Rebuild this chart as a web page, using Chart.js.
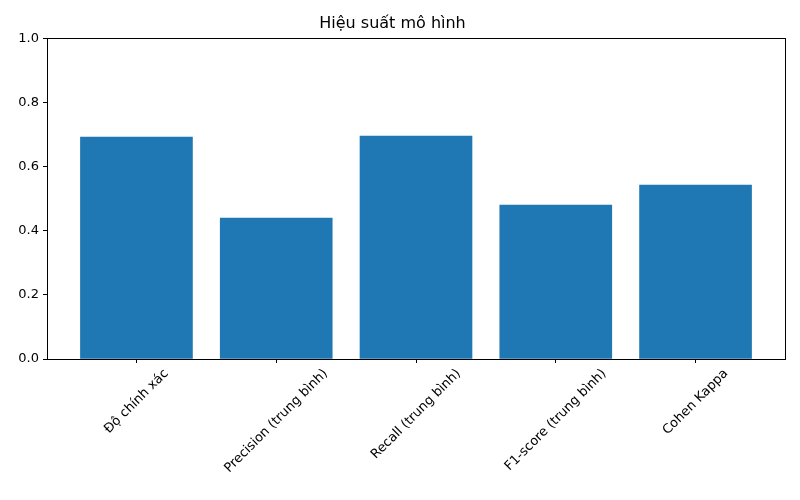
<!DOCTYPE html>
<html><head><meta charset="utf-8">
<script src="https://cdn.jsdelivr.net/npm/chart.js@4"></script>
<style>body{margin:0;background:#fff}#w{width:800px;height:500px}</style>
</head><body><div id="w"><canvas id="c"></canvas></div>
<script>
const categories = ["Độ chính xác","Precision (trung bình)","Recall (trung bình)","F1-score (trung bình)","Cohen Kappa"];
const values = [0.692, 0.439, 0.695, 0.480, 0.542];
const yTicks = [0,0.2,0.4,0.6,0.8,1.0];
const FONT = "'DejaVu Sans', sans-serif";

const labelPlugin = {
  id:'lbl',
  afterDraw(chart){
    const ctx = chart.ctx, xs = chart.scales.x, a = chart.chartArea;
    ctx.save();
    ctx.strokeStyle='#000'; ctx.lineWidth=1;
    ctx.strokeRect(Math.round(a.left)+0.5, Math.round(a.top)+0.5, Math.round(a.right-a.left), Math.round(a.bottom-a.top));
    ctx.font = '13px '+FONT; ctx.fillStyle='#000';
    ctx.textAlign='center'; ctx.textBaseline='middle';
    const s = Math.SQRT1_2, fh = 13;
    categories.forEach((t,i)=>{
      const x = xs.getPixelForValue(i);
      const w = ctx.measureText(t).width;
      const h = (w*s + fh*s)/2;
      ctx.save();
      ctx.translate(x, a.bottom + 8 + h);
      ctx.rotate(-Math.PI/4);
      ctx.fillText(t,0,0);
      ctx.restore();
    });
    ctx.restore();
  }
};

new Chart(document.getElementById('c'), {
  type:'bar',
  data:{datasets:[{data: values.map((v,i)=>({x:i,y:v})), backgroundColor:'#1f77b4', barThickness:112}]},
  options:{
    responsive:true, maintainAspectRatio:false, animation:false,
    layout:{padding:{left:0,right:15,top:0,bottom:0}},
    plugins:{legend:{display:false}, tooltip:{enabled:false},
      title:{display:true, text:'Hiệu suất mô hình', color:'#000', font:{family:FONT,size:16,weight:'normal'}, padding:{top:14,bottom:5}}},
    scales:{
      x:{type:'linear', min:-0.64, max:4.64, offset:false, afterFit(s){s.height=141;},
        afterBuildTicks(s){s.ticks = categories.map((c,i)=>({value:i}));},
        ticks:{display:false},
        grid:{offset:false, drawOnChartArea:false, drawTicks:true, tickLength:4, color:'#000'},
        border:{display:true,color:'#000'}},
      y:{min:0, max:1, afterFit(s){s.width=47;},
        afterBuildTicks(s){s.ticks = yTicks.map(v=>({value:v}));},
        ticks:{color:'#000', font:{family:FONT,size:13}, padding:4, callback:v=>v.toFixed(1)},
        grid:{drawOnChartArea:false, drawTicks:true, tickLength:4, color:'#000'},
        border:{display:true,color:'#000'}}
    }
  },
  plugins:[labelPlugin]
});
</script></body></html>
